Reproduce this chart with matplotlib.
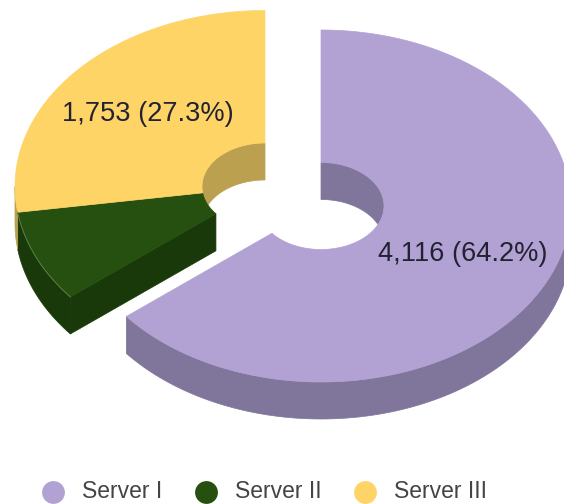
import matplotlib
matplotlib.use('Agg')
import matplotlib.pyplot as plt
from matplotlib.patches import Polygon
import numpy as np

plt.rcParams['font.family'] = ['Liberation Sans', 'DejaVu Sans']

servers = ['Server I', 'Server II', 'Server III']
requests = [4116, 542, 1753]
slice_labels = ['4,116 (64.2%)', '', '1,753 (27.3%)']
top_colors = ['#B2A2D3', '#25500F', '#FFD466']
side_colors = ['#80759B', '#1A390A', '#BBA04F']

# geometry in image pixels
CX, CY = 265, 186.5
RX, RY = 250, 176
HOLE_RX, HOLE_RY = 63, 43.5
DEPTH = 37
EXPLODE = [(56, 19.5), (0, 0), (0, 0)]
LABEL_POS = [(463, 254), None, (148, 114)]


def arc(cx, cy, rx, ry, t0, t1):
    t = np.radians(np.linspace(t0, t1, 200))
    return np.column_stack([cx + rx * np.sin(t), cy - ry * np.cos(t)])


def drawOuterWall(ax, cx, cy, t0, t1, color):
    # only the front half of the rim shows
    a, b = max(t0, 90), min(t1, 270)
    if a >= b:
        return
    top = arc(cx, cy, RX, RY, a, b)
    bottom = top + [0, DEPTH]
    ax.add_patch(Polygon(np.vstack([top, bottom[::-1]]), fc=color, ec=color, lw=0.5))


def drawHoleWall(ax, cx, cy, t0, t1, color):
    # part of the hole wall that is seen through the hole, a lune between two ellipses
    cross = np.degrees(np.arccos(DEPTH / (2 * HOLE_RY)))
    if t0 < 90:
        top = arc(cx, cy, HOLE_RX, HOLE_RY, t0, 180 - cross)
        bottom = arc(cx, cy + DEPTH, HOLE_RX, HOLE_RY, t0, cross)
    elif t1 > 270:
        top = arc(cx, cy, HOLE_RX, HOLE_RY, t1, 180 + cross)
        bottom = arc(cx, cy + DEPTH, HOLE_RX, HOLE_RY, t1, 360 - cross)
    else:
        return
    ax.add_patch(Polygon(np.vstack([top, bottom[::-1]]), fc=color, ec=color, lw=0.5))


def drawCutWall(ax, cx, cy, t, color):
    inner = arc(cx, cy, HOLE_RX, HOLE_RY, t, t)[0]
    outer = arc(cx, cy, RX, RY, t, t)[0]
    pts = [inner, outer, outer + [0, DEPTH], inner + [0, DEPTH]]
    ax.add_patch(Polygon(pts, fc=color, ec=color, lw=0.5))


def drawTop(ax, cx, cy, t0, t1, color):
    outer = arc(cx, cy, RX, RY, t0, t1)
    inner = arc(cx, cy, HOLE_RX, HOLE_RY, t0, t1)
    ax.add_patch(Polygon(np.vstack([outer, inner[::-1]]), fc=color, ec=color, lw=0.5))
    return outer


fig = plt.figure(figsize=(5.64, 5.04), dpi=100)
ax = fig.add_axes([0, 0, 1, 1])
ax.set_xlim(0, 564)
ax.set_ylim(504, 0)
ax.axis('off')

ends = np.cumsum(requests) / sum(requests) * 360
starts = np.r_[0, ends[:-1]]

for i in range(len(servers)):
    cx = CX + EXPLODE[i][0]
    cy = CY + EXPLODE[i][1]
    drawOuterWall(ax, cx, cy, starts[i], ends[i], side_colors[i])
    drawHoleWall(ax, cx, cy, starts[i], ends[i], side_colors[i])
    if servers[i] == 'Server II':
        drawCutWall(ax, cx, cy, starts[i], side_colors[i])

for i in range(len(servers)):
    cx = CX + EXPLODE[i][0]
    cy = CY + EXPLODE[i][1]
    rim = drawTop(ax, cx, cy, starts[i], ends[i], top_colors[i])
    if servers[i] == 'Server II':
        ax.plot(rim[:, 0], rim[:, 1], color='#5E7F45', lw=0.7)
    if slice_labels[i]:
        ax.text(LABEL_POS[i][0], LABEL_POS[i][1], slice_labels[i], fontsize=19.6,
                color='#222233', ha='center', va='center')

# legend
legend_x = [53, 206, 365]
for i in range(len(servers)):
    ax.scatter(legend_x[i], 492, s=270, color=top_colors[i], linewidths=0, clip_on=False)
    ax.text(legend_x[i] + 29, 492, servers[i], fontsize=16.5, color='#444444',
            ha='left', va='center')

fig.savefig('out.png', dpi=100)
